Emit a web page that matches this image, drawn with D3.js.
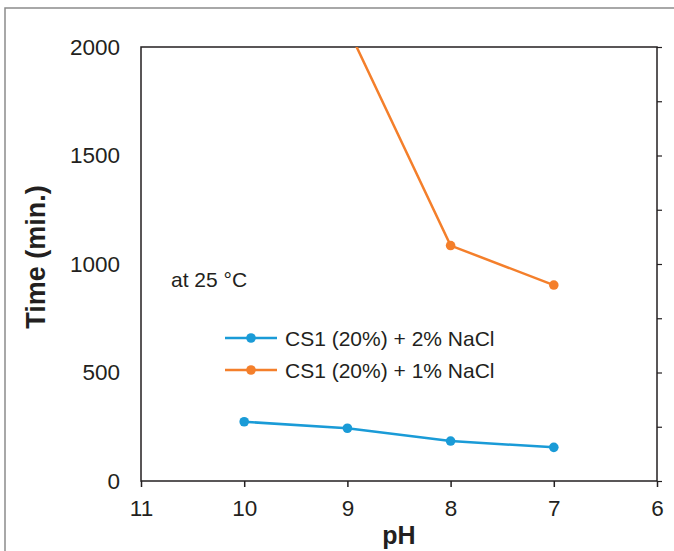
<!DOCTYPE html>
<html>
<head>
<meta charset="utf-8">
<script src="https://cdn.jsdelivr.net/npm/d3@7"></script>
<style>
  body { margin: 0; background: #fff; }
  text { font-family: "Liberation Sans", Arial, sans-serif; fill: #231f20; }
</style>
</head>
<body>
<div id="container"></div>
<script>
/* DATA */
const phValues = [10, 9, 8, 7];
const nacl2 = [273, 243, 184, 155];
const nacl1 = [null, 2090, 1085, 903];
const seriesNames = ["CS1 (20%) + 2% NaCl", "CS1 (20%) + 1% NaCl"];
const xTicks = [11, 10, 9, 8, 7, 6];
const yTicks = [0, 500, 1000, 1500, 2000];
const yMinor = [250, 750, 1250, 1750];

const width = 674, height = 551;
const margin = { top: 47, right: 17, bottom: 70, left: 141 };
const blue = "#1a9bd7", orange = "#f47f2b";

const svg = d3.select("#container").append("svg")
  .attr("width", width).attr("height", height);

// figure frame (top + left)
svg.append("path")
  .attr("d", `M5,${height} L5,8 L${width},8`)
  .attr("fill", "none").attr("stroke", "#8c8c8c").attr("stroke-width", 1.5);

const xScale = d3.scaleLinear().domain([11, 6]).range([margin.left, width - margin.right]);
const yScale = d3.scaleLinear().domain([0, 2000]).range([height - margin.bottom, margin.top]);

svg.append("defs").append("clipPath").attr("id", "plot")
  .append("rect")
  .attr("x", margin.left).attr("y", margin.top)
  .attr("width", xScale(6) - xScale(11)).attr("height", yScale(0) - yScale(2000));

// frame of plot
svg.append("rect")
  .attr("x", margin.left).attr("y", margin.top)
  .attr("width", xScale(6) - xScale(11)).attr("height", yScale(0) - yScale(2000))
  .attr("fill", "none").attr("stroke", "#231f20").attr("stroke-width", 1.5);

// x axis
const xAxis = svg.append("g")
  .attr("transform", `translate(0,${yScale(0)})`)
  .call(d3.axisBottom(xScale).tickValues(xTicks).tickFormat(d3.format("d")).tickSize(6).tickPadding(13));
xAxis.select(".domain").remove();
xAxis.selectAll("line").attr("stroke", "#231f20").attr("stroke-width", 1.5);
xAxis.selectAll("text").style("font-size", "22.5px").style("font-family", "Liberation Sans, Arial, sans-serif").attr("fill", "#231f20");

// y axis labels (left, no ticks)
const yAxis = svg.append("g")
  .attr("transform", `translate(${margin.left},0)`)
  .call(d3.axisLeft(yScale).tickValues(yTicks).tickFormat(d3.format("d")).tickSize(0).tickPadding(21));
yAxis.select(".domain").remove();
yAxis.selectAll("text").style("font-size", "22.5px").style("font-family", "Liberation Sans, Arial, sans-serif").attr("fill", "#231f20");

// right axis ticks
const yRight = svg.append("g")
  .attr("transform", `translate(${xScale(6)},0)`)
  .call(d3.axisRight(yScale).tickValues(yTicks.concat(yMinor)).tickSize(5).tickFormat(""));
yRight.select(".domain").remove();
yRight.selectAll("line").attr("stroke", "#231f20").attr("stroke-width", 1.2);

// axis titles
svg.append("text")
  .attr("x", (xScale(11) + xScale(6)) / 2).attr("y", 544)
  .attr("text-anchor", "middle")
  .style("font-size", "25px").style("font-weight", "bold")
  .text("pH");

svg.append("text")
  .attr("transform", "translate(45,257) rotate(-90)")
  .attr("text-anchor", "middle")
  .style("font-size", "27px").style("font-weight", "bold")
  .text("Time (min.)");

svg.append("text")
  .attr("x", 171).attr("y", 287)
  .style("font-size", "21px")
  .text("at 25 °C");

// series
const line = d3.line()
  .defined(d => d.v !== null)
  .x(d => xScale(d.ph)).y(d => yScale(d.v));

const series = [
  { name: seriesNames[0], color: blue, data: phValues.map((ph, i) => ({ ph, v: nacl2[i] })) },
  { name: seriesNames[1], color: orange, data: phValues.map((ph, i) => ({ ph, v: nacl1[i] })) }
];

const plot = svg.append("g").attr("clip-path", "url(#plot)");

series.forEach(s => {
  plot.append("path")
    .datum(s.data)
    .attr("d", line)
    .attr("fill", "none").attr("stroke", s.color).attr("stroke-width", 2.5);
  plot.selectAll(null)
    .data(s.data.filter(d => d.v !== null && d.v <= 2000))
    .join("circle")
    .attr("cx", d => xScale(d.ph)).attr("cy", d => yScale(d.v))
    .attr("r", 4.8).attr("fill", s.color);
});

// legend
const legend = svg.append("g").attr("transform", "translate(225,338)");
series.forEach((s, i) => {
  const g = legend.append("g").attr("transform", `translate(0,${i * 32})`);
  g.append("line").attr("x1", 0).attr("x2", 52).attr("y1", 0).attr("y2", 0)
    .attr("stroke", s.color).attr("stroke-width", 2.5);
  g.append("circle").attr("cx", 26).attr("cy", 0).attr("r", 4.8).attr("fill", s.color);
  g.append("text").attr("x", 60).attr("y", 7.5)
    .style("font-size", "21px").text(s.name);
});
</script>
</body>
</html>
